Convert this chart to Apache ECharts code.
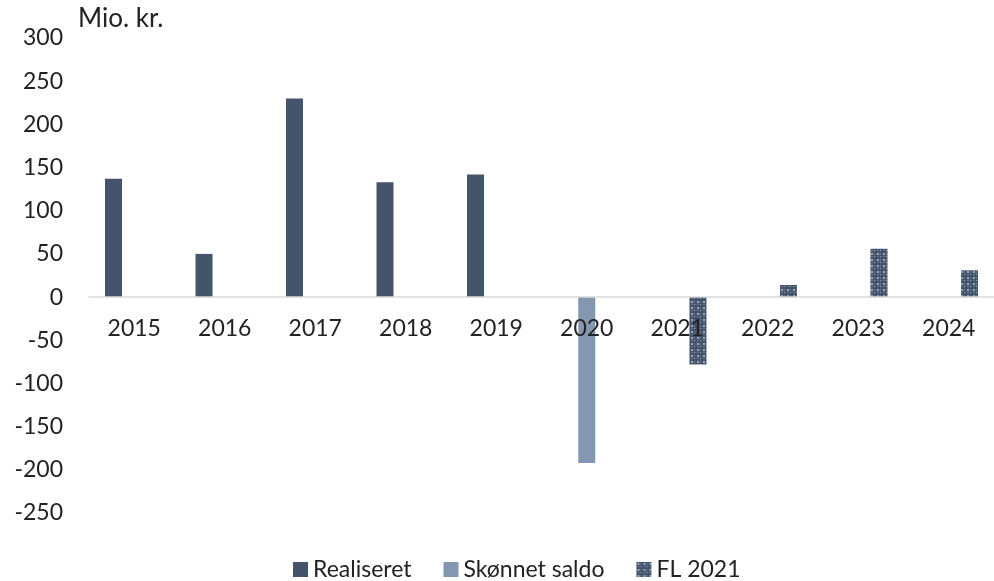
<!DOCTYPE html>
<html>
<head>
<meta charset="utf-8">
<script src="https://cdn.jsdelivr.net/npm/echarts@6/dist/echarts.min.js"></script>
<style>
  html, body { margin: 0; padding: 0; background: #fff; }
  #chart { width: 994px; height: 581px; }
</style>
</head>
<body>
<div id="chart"></div>
<script>
// data (Mio. kr.)
const years = ['2015', '2016', '2017', '2018', '2019', '2020', '2021', '2022', '2023', '2024']
const realiseret = [137, 50, 230, 133, 142, null, null, null, null, null]
const skoennet = [null, null, null, null, null, -192, null, null, null, null]
const fl2021 = [null, null, null, null, null, null, -78, 14, 56, 31]

const FONT = 'Lato, "Open Sans", sans-serif'
const DARK = '#44546A'
const LIGHT = '#8497B0'

// small lattice pattern for the FL 2021 bars
function makePattern() {
  const c = document.createElement('canvas')
  c.width = 6
  c.height = 6
  const ctx = c.getContext('2d')
  ctx.fillStyle = DARK
  ctx.fillRect(0, 0, 6, 6)
  ctx.fillStyle = '#9aa7b9'
  ctx.fillRect(1, 1, 2, 2)
  ctx.fillRect(4, 4, 1, 1)
  ctx.fillStyle = '#65758b'
  ctx.fillRect(4, 1, 1, 2)
  ctx.fillRect(1, 4, 2, 1)
  return c
}

const chart = echarts.init(document.getElementById('chart'))
const barW = 17
const yMin = -250
const yMax = 300
const gridTop = 38
const gridBottom = 68
// move the category axis (line and labels) up to the zero line
const plotH = 581 - gridTop - gridBottom
const zeroOffset = -plotH * (0 - yMin) / (yMax - yMin)

chart.setOption({
  animation: false,
  backgroundColor: '#fff',
  textStyle: { fontFamily: FONT },
  grid: { left: 89, right: -7, top: gridTop, bottom: gridBottom, containLabel: false },
  graphic: [{
    type: 'text', left: 78, top: 6,
    style: { text: 'Mio. kr.', font: '26px ' + FONT, fill: '#222' }
  }],
  legend: {
    bottom: -5,
    left: 288,
    itemWidth: 15,
    itemHeight: 15,
    itemGap: 32,
    textStyle: { fontSize: 23, color: '#222', fontFamily: FONT },
    data: [
      { name: 'Realiseret', icon: 'rect' },
      { name: 'Skønnet saldo', icon: 'rect' },
      { name: 'FL 2021', icon: 'rect' }
    ]
  },
  xAxis: {
    type: 'category',
    data: years,
    position: 'bottom',
    offset: zeroOffset,
    z: 10,
    axisLine: { onZero: false, lineStyle: { color: '#d9d9d9', width: 1.5 } },
    axisTick: { show: false },
    axisLabel: { color: '#222', fontSize: 23, margin: 20, fontFamily: FONT }
  },
  yAxis: {
    type: 'value',
    min: yMin,
    max: yMax,
    interval: 50,
    splitLine: { show: false },
    axisLine: { show: false },
    axisTick: { show: false },
    axisLabel: { color: '#222', fontSize: 23, margin: 26, fontFamily: FONT }
  },
  series: [
    { name: 'Realiseret', type: 'bar', data: realiseret, barWidth: barW, barGap: '22%',
      itemStyle: { color: DARK } },
    { name: 'Skønnet saldo', type: 'bar', data: skoennet, barWidth: barW, barGap: '22%',
      itemStyle: { color: LIGHT } },
    { name: 'FL 2021', type: 'bar', data: fl2021, barWidth: barW, barGap: '22%',
      itemStyle: { color: { image: makePattern(), repeat: 'repeat' } } }
  ]
})
</script>
</body>
</html>
